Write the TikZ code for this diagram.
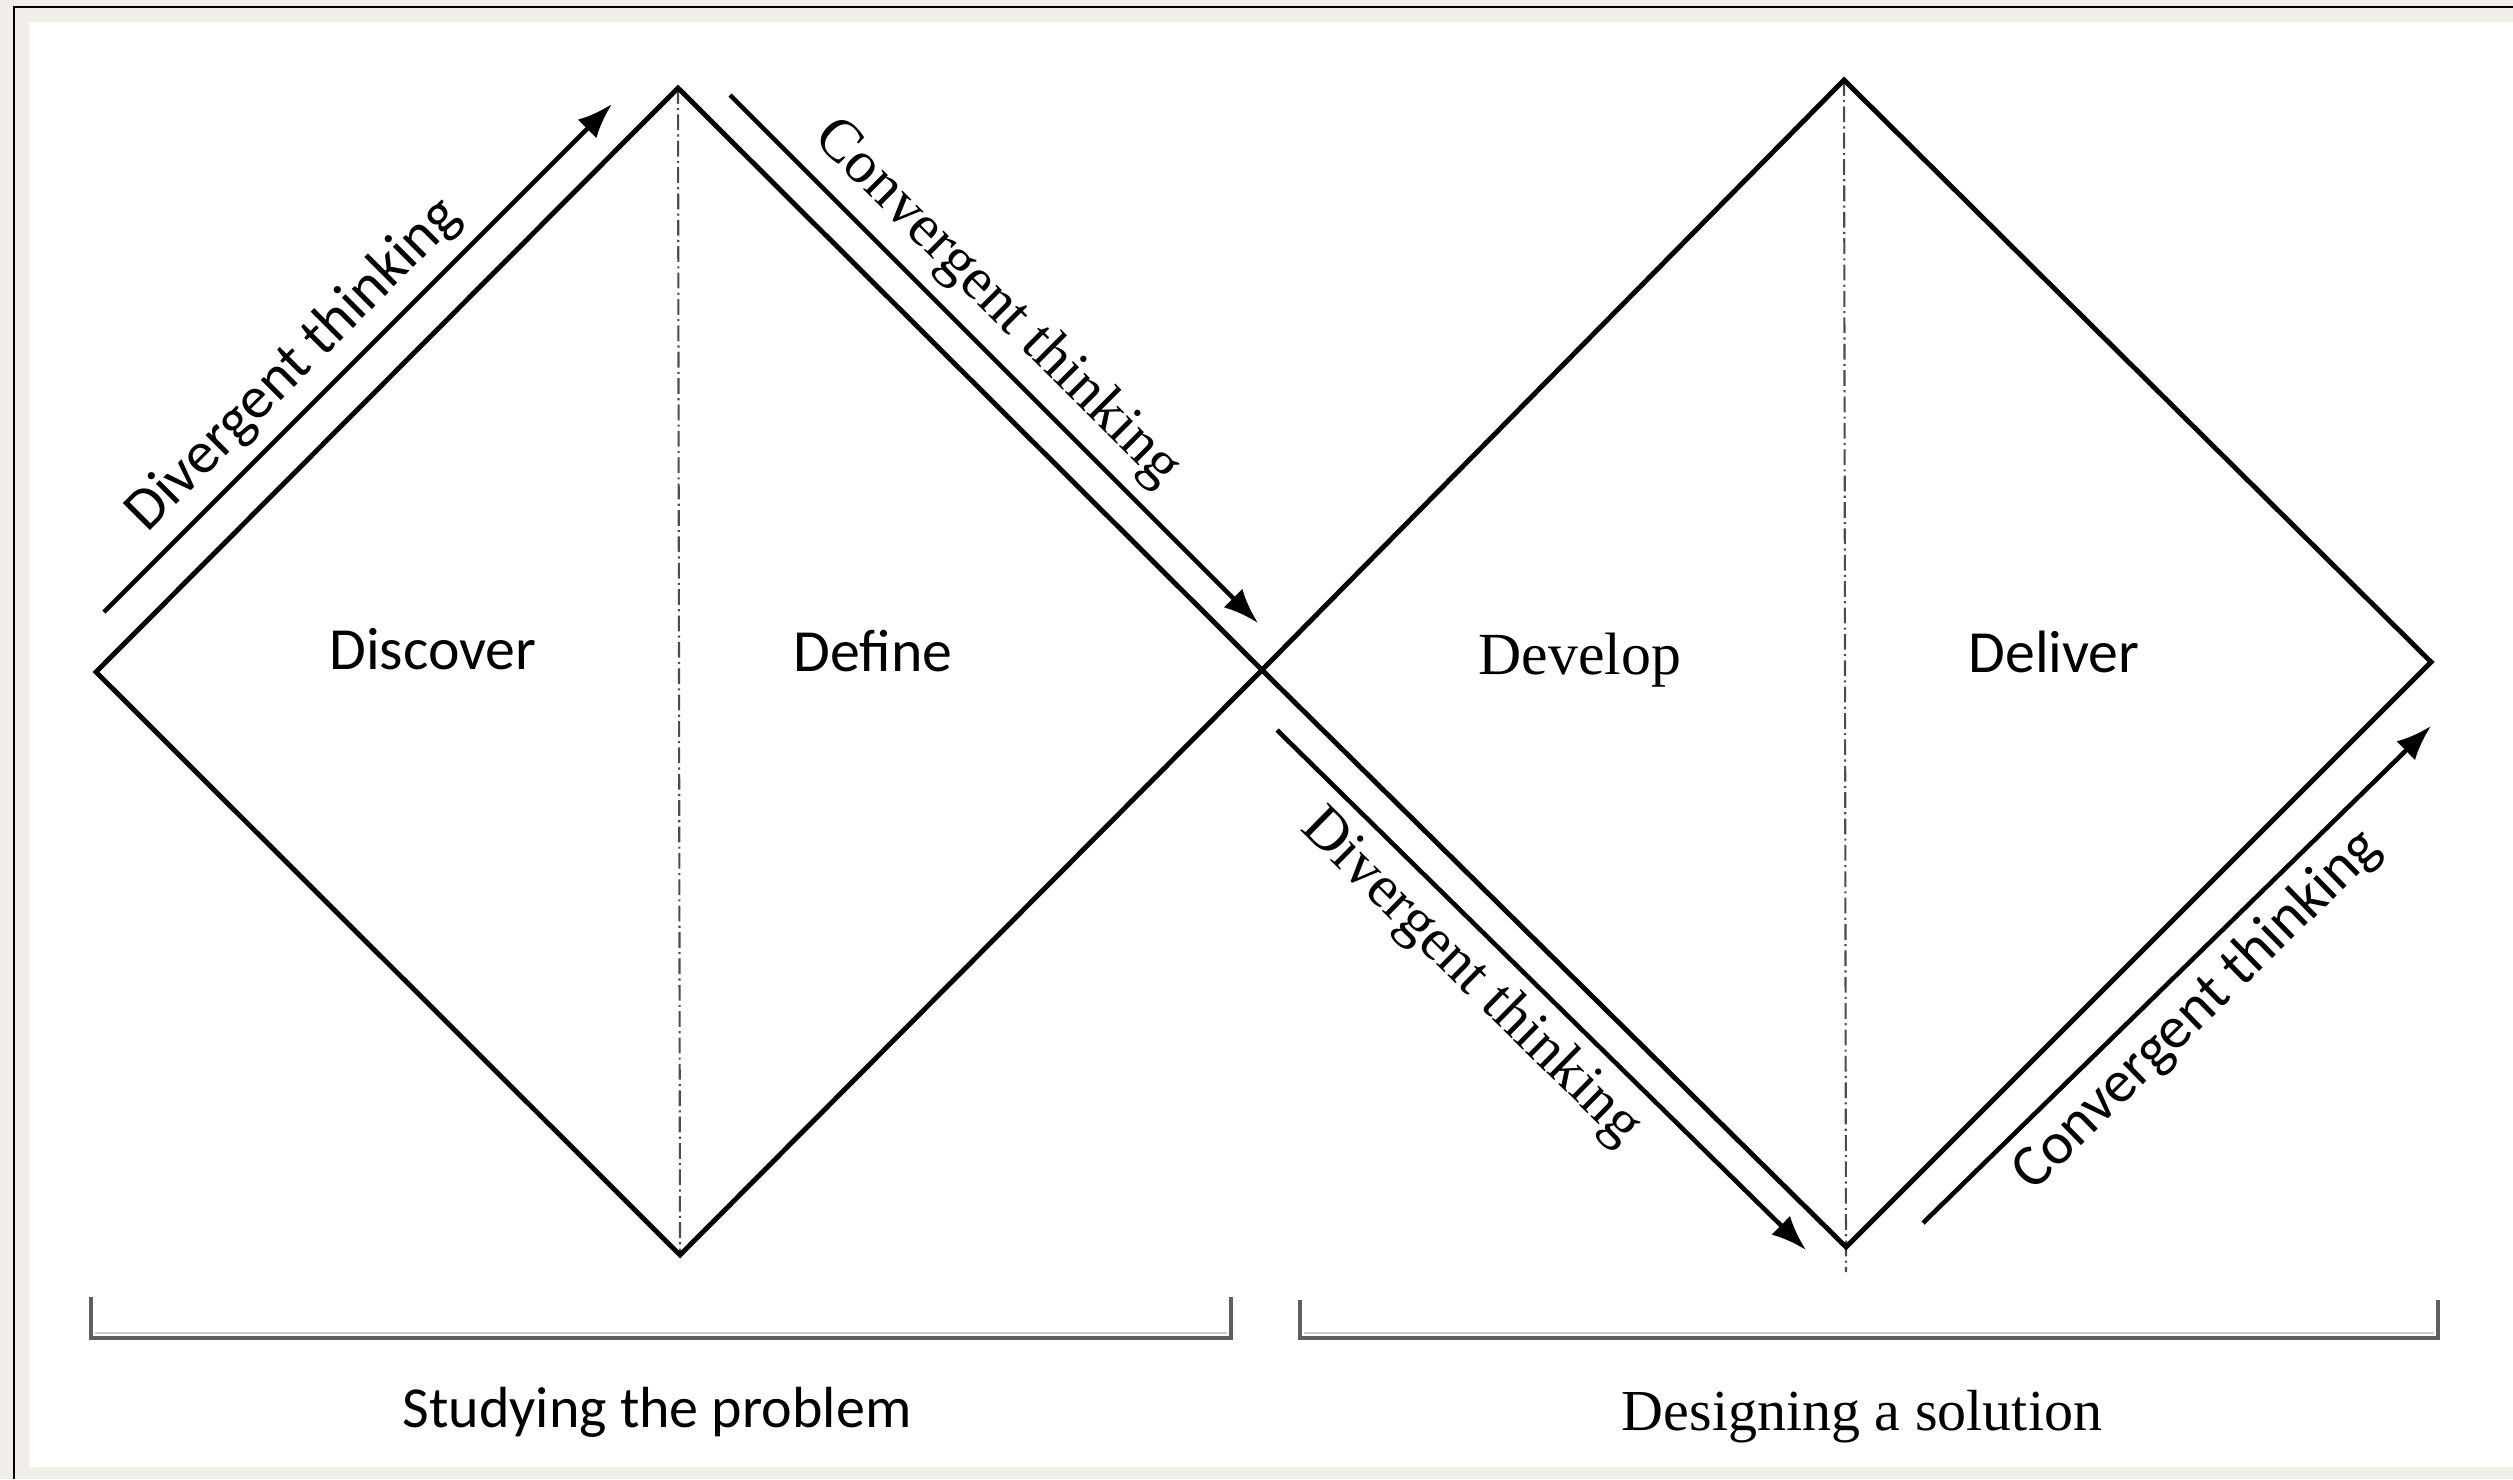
\documentclass[tikz,border=0pt]{standalone}
\usepackage{fontspec}
\setmainfont{Liberation Serif}
\newfontfamily\calfont{Carlito}
\usetikzlibrary{arrows.meta}
\definecolor{framebg}{HTML}{F1EEE7}
\definecolor{brk}{HTML}{5F5F5F}
\begin{document}
\begin{tikzpicture}[x=0.01cm,y=-0.01cm,
  edge/.style={line width=1.4pt, line join=miter},
  axisline/.style={line width=0.6pt, gray!60!black, dash pattern=on 4.5pt off 1.2pt on 0.6pt off 1.2pt},
  flow/.style={line width=1.3pt, -{Latex[length=10pt,width=7.5pt]}},
  sanslab/.style={font=\calfont\fontsize{17}{20}\selectfont},
  seriflab/.style={font=\fontsize{17}{20}\selectfont},
  bracketline/.style={line width=1.1pt, brk},
  bracketshade/.style={line width=0.7pt, gray!40}
]
\useasboundingbox (0,0) rectangle (2513,1479);
% frame
\fill[framebg] (0,0) rectangle (2513,1479);
\fill[white] (29,22) rectangle (2513,1467);
\draw[line width=0.8pt] (14,1479) -- (14,7) -- (2513,7);

% diamond vertices
\coordinate (L)  at (96,672);
\coordinate (LT) at (678,88);
\coordinate (X)  at (1262,670);
\coordinate (LB) at (680,1255);
\coordinate (RT) at (1844,80);
\coordinate (R)  at (2431,662);
\coordinate (RB) at (1846,1247);
\coordinate (RBx) at (1846,1272);

% center axes
\draw[axisline] (LT) -- (LB);
\draw[axisline] (RT) -- (RBx);

% diamonds
\draw[edge] (L) -- (LT) -- (X) -- (LB) -- cycle;
\draw[edge] (X) -- (RT) -- (R) -- (RB) -- cycle;

% arrows
\coordinate (a1s) at (104,612);  \coordinate (a1e) at (612,104);
\coordinate (a2s) at (730,95);   \coordinate (a2e) at (1258,623);
\coordinate (a3s) at (1277,730); \coordinate (a3e) at (1806,1250);
\coordinate (a4s) at (1923,1223);\coordinate (a4e) at (2431,726);

\draw[flow] (a1s) -- node[sloped, above, pos=0.43, sanslab] {Divergent thinking} (a1e);
\draw[flow] (a2s) -- node[sloped, above, pos=0.45, seriflab] {Convergent thinking} (a2e);
\draw[flow] (a3s) -- node[sloped, below, pos=0.42, seriflab] {Divergent thinking} (a3e);
\draw[flow] (a4s) -- node[sloped, below, pos=0.485, sanslab] {Convergent thinking} (a4e);

% phase labels
\node[sanslab, anchor=base] (disc) at (433,669) {Discover};
\node[sanslab, anchor=base] (defi) at (873,671) {Define};
\node[seriflab, anchor=base] (deve) at (1580,674) {Develop};
\node[sanslab, anchor=base] (deli) at (2054,672) {Deliver};

% brackets
\coordinate (b1a) at (91,1297);   \coordinate (b1b) at (91,1338);
\coordinate (b1c) at (1231,1338); \coordinate (b1d) at (1231,1297);
\coordinate (b2a) at (1300,1300); \coordinate (b2b) at (1300,1338);
\coordinate (b2c) at (2438,1338); \coordinate (b2d) at (2438,1300);
\draw[bracketshade] (95,1333) -- (1227,1333);
\draw[bracketshade] (1304,1333) -- (2434,1333);
\draw[bracketline] (b1a) -- (b1b) -- (b1c) -- (b1d);
\draw[bracketline] (b2a) -- (b2b) -- (b2c) -- (b2d);

\node[font=\calfont\fontsize{16.5}{20}\selectfont, anchor=base] (study) at (657,1427) {Studying the problem};
\node[font=\fontsize{16.5}{20}\selectfont, anchor=base] (design) at (1862,1430) {Designing a solution};
\end{tikzpicture}
\end{document}
